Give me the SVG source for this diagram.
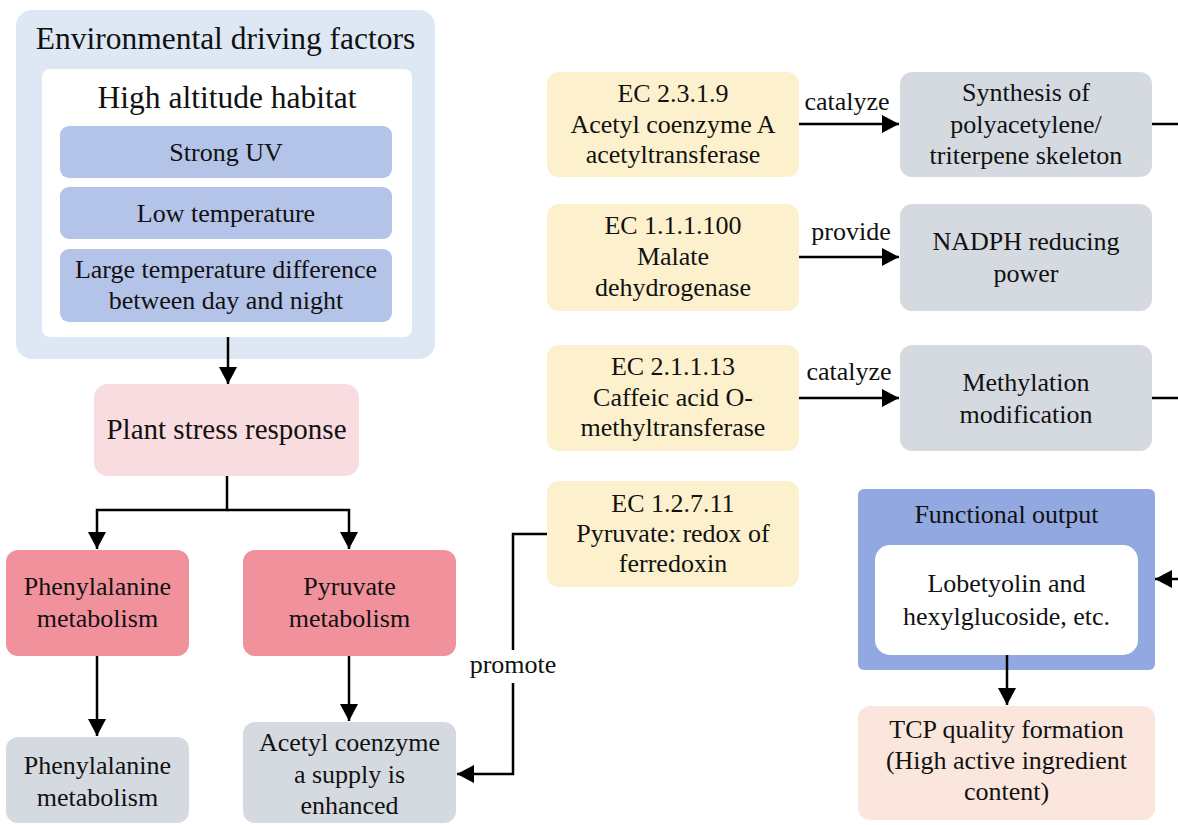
<svg xmlns="http://www.w3.org/2000/svg" width="1178" height="825" viewBox="0 0 1178 825">
<defs>
<marker id="ah" viewBox="0 0 17 18" refX="17" refY="9" markerWidth="17" markerHeight="18" markerUnits="userSpaceOnUse" orient="auto">
<path d="M0,0 L17,9 L0,18 z" fill="#000"/>
</marker>
</defs>
<style>
text{font-family:"Liberation Serif","Times New Roman",serif;fill:#111;text-anchor:middle;}
.t26{font-size:26px;}
.t29{font-size:29px;}
.t31{font-size:31.5px;}
.c{fill:none;stroke:#000;stroke-width:2.5;}
.env{fill:#dde8f4;}
.wh{fill:#fff;}
.sub{fill:#b4c4e8;}
.pink{fill:#f9dce0;}
.red{fill:#f0919c;}
.grey{fill:#d5dae1;}
.yel{fill:#fdf1cd;}
.fo{fill:#91a8e0;}
.tcp{fill:#fae6dc;}
</style>
<rect width="1178" height="825" fill="#fff"/>

<g id="env">
<rect class="env" x="16" y="10" width="419" height="349" rx="16"/>
<text class="t31" x="225.5" y="49">Environmental driving factors</text>
<rect class="wh" x="42" y="69" width="370" height="268" rx="8"/>
<text class="t31" x="227" y="108">High altitude habitat</text>
</g>
<g id="uv">
<rect class="sub" x="60" y="126" width="332" height="52" rx="9"/>
<text class="t26" x="226" y="161">Strong UV</text>
</g>
<g id="lowtemp">
<rect class="sub" x="60" y="187" width="332" height="52" rx="9"/>
<text class="t26" x="226" y="222">Low temperature</text>
</g>
<g id="largediff">
<rect class="sub" x="60" y="249" width="332" height="73" rx="9"/>
<text class="t26" x="226" y="278">Large temperature difference</text>
<text class="t26" x="226" y="309">between day and night</text>
</g>

<g id="stress">
<rect class="pink" x="94" y="384" width="265" height="92" rx="14"/>
<text class="t29" x="226.5" y="439">Plant stress response</text>
</g>
<g id="phe">
<rect class="red" x="6" y="550" width="183" height="106" rx="12"/>
<text class="t26" x="97.5" y="595">Phenylalanine</text>
<text class="t26" x="97.5" y="627">metabolism</text>
</g>
<g id="pyr">
<rect class="red" x="243" y="550" width="213" height="106" rx="12"/>
<text class="t26" x="349.5" y="595">Pyruvate</text>
<text class="t26" x="349.5" y="627">metabolism</text>
</g>
<g id="phe2">
<rect class="grey" x="6" y="737" width="183" height="86" rx="12"/>
<text class="t26" x="97.5" y="774">Phenylalanine</text>
<text class="t26" x="97.5" y="806">metabolism</text>
</g>
<g id="acetyl">
<rect class="grey" x="243" y="722" width="213" height="101" rx="12"/>
<text class="t26" x="349.5" y="751">Acetyl coenzyme</text>
<text class="t26" x="349.5" y="783">a supply is</text>
<text class="t26" x="349.5" y="814">enhanced</text>
</g>

<g id="ec1">
<rect class="yel" x="547" y="72" width="252" height="105" rx="12"/>
<text class="t26" x="673" y="102">EC 2.3.1.9</text>
<text class="t26" x="673" y="133">Acetyl coenzyme A</text>
<text class="t26" x="673" y="163">acetyltransferase</text>
</g>
<g id="ec2">
<rect class="yel" x="547" y="204" width="252" height="107" rx="12"/>
<text class="t26" x="673" y="234">EC 1.1.1.100</text>
<text class="t26" x="673" y="265">Malate</text>
<text class="t26" x="673" y="296">dehydrogenase</text>
</g>
<g id="ec3">
<rect class="yel" x="547" y="345" width="252" height="106" rx="12"/>
<text class="t26" x="673" y="375">EC 2.1.1.13</text>
<text class="t26" x="673" y="406">Caffeic acid O-</text>
<text class="t26" x="673" y="436">methyltransferase</text>
</g>
<g id="ec4">
<rect class="yel" x="547" y="481" width="252" height="106" rx="12"/>
<text class="t26" x="673" y="512">EC 1.2.7.11</text>
<text class="t26" x="673" y="542">Pyruvate: redox of</text>
<text class="t26" x="673" y="572">ferredoxin</text>
</g>

<g id="synth">
<rect class="grey" x="900" y="72" width="252" height="105" rx="12"/>
<text class="t26" x="1026" y="101">Synthesis of</text>
<text class="t26" x="1026" y="133">polyacetylene/</text>
<text class="t26" x="1026" y="164">triterpene skeleton</text>
</g>
<g id="nadph">
<rect class="grey" x="900" y="204" width="252" height="107" rx="12"/>
<text class="t26" x="1026" y="250">NADPH reducing</text>
<text class="t26" x="1026" y="282">power</text>
</g>
<g id="methyl">
<rect class="grey" x="900" y="345" width="252" height="106" rx="12"/>
<text class="t26" x="1026" y="391">Methylation</text>
<text class="t26" x="1026" y="423">modification</text>
</g>

<g id="func">
<rect class="fo" x="858" y="489" width="297" height="181" rx="6"/>
<text class="t26" x="1006.5" y="523">Functional output</text>
<rect class="wh" x="875" y="545" width="263" height="110" rx="15"/>
<text class="t26" x="1006.5" y="592">Lobetyolin and</text>
<text class="t26" x="1006.5" y="625">hexylglucoside, etc.</text>
</g>
<g id="tcp">
<rect class="tcp" x="858" y="706" width="297" height="114" rx="12"/>
<text class="t26" x="1006.5" y="738">TCP quality formation</text>
<text class="t26" x="1006.5" y="769">(High active ingredient</text>
<text class="t26" x="1006.5" y="800">content)</text>
</g>

<g id="connectors">
<path class="c" d="M228,337 V384" marker-end="url(#ah)"/>
<path class="c" d="M227,476 V510 H97 V549" marker-end="url(#ah)"/>
<path class="c" d="M227,510 H349 V549" marker-end="url(#ah)"/>
<path class="c" d="M97,656 V736" marker-end="url(#ah)"/>
<path class="c" d="M349,656 V721" marker-end="url(#ah)"/>
<path class="c" d="M547,534 H513 V650"/>
<path class="c" d="M513,683 V774 H457" marker-end="url(#ah)"/>
<text class="t26" x="513" y="673">promote</text>
<path class="c" d="M799,124 H899" marker-end="url(#ah)"/>
<text class="t26" x="847" y="110">catalyze</text>
<path class="c" d="M799,257 H899" marker-end="url(#ah)"/>
<text class="t26" x="851" y="240">provide</text>
<path class="c" d="M799,398 H899" marker-end="url(#ah)"/>
<text class="t26" x="849" y="380">catalyze</text>
<path class="c" d="M1152,124 H1178"/>
<path class="c" d="M1152,398 H1178"/>
<path class="c" d="M1180,579 H1155" marker-end="url(#ah)"/>
<path class="c" d="M1007,655 V705" marker-end="url(#ah)"/>
</g>
</svg>
